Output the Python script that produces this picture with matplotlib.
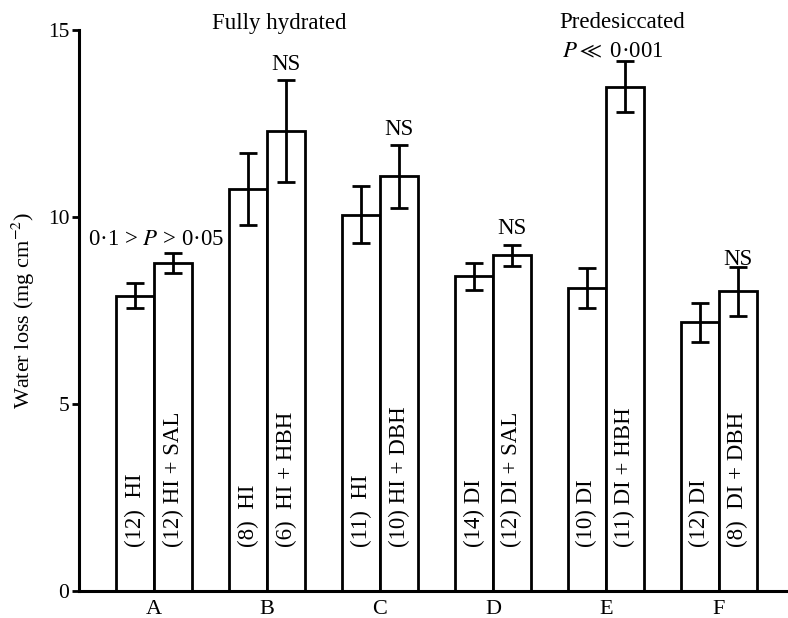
import matplotlib
matplotlib.use("Agg")
import matplotlib.pyplot as plt
import numpy as np

plt.rcParams['font.family'] = ['Liberation Serif', 'DejaVu Serif']
plt.rcParams['mathtext.fontset'] = 'stix'

groups = ['A', 'B', 'C', 'D', 'E', 'F']
control = [7.9, 10.75, 10.07, 8.42, 8.11, 7.19]
control_err = [0.34, 0.96, 0.75, 0.36, 0.53, 0.52]
treated = [8.78, 12.3, 11.09, 8.98, 13.48, 8.02]
treated_err = [0.27, 1.37, 0.85, 0.28, 0.68, 0.65]
control_labels = ['(12)  HI', '(8)  HI', '(11)  HI', '(14) DI', '(10) DI', '(12) DI']
treated_labels = ['(12) HI + SAL', '(6)  HI + HBH', '(10) HI + DBH',
                  '(12) DI + SAL', '(11) DI + HBH', '(8)  DI + DBH']
significance = ['0·1 > $P$ > 0·05', 'NS', 'NS', 'NS', '$P \\ll$ 0·001', 'NS']

fig = plt.figure(figsize=(7.88, 6.18), dpi=100)
ax = fig.add_axes([0.1003, 0.0429, 0.897, 0.9086])

x = np.arange(len(groups))
w = 0.336
err_kw = dict(ecolor='black', elinewidth=2, capsize=6.5, capthick=2)
ax.bar(x - w / 2, control, w, yerr=control_err, color='white',
       edgecolor='black', linewidth=2, error_kw=err_kw)
ax.bar(x + w / 2, treated, w, yerr=treated_err, color='white',
       edgecolor='black', linewidth=2, error_kw=err_kw)

# labels inside bars
for i in range(len(groups)):
    ax.text(x[i] - w / 2, 1.2, control_labels[i], rotation=90, ha='center',
            va='bottom', fontsize=16.5)
    ax.text(x[i] + w / 2, 1.2, treated_labels[i], rotation=90, ha='center',
            va='bottom', fontsize=16.5)

# significance notes
sig_pos = [(0.018, 9.39), (1.168, 14.07), (2.168, 12.33),
           (3.168, 9.69), (4.06, 14.41), (5.168, 8.86)]
for s, (sx, sy) in zip(significance, sig_pos):
    ax.text(sx, sy, s, ha='center', va='center', fontsize=16.5, clip_on=False)

ax.text(1.106, 15.16, 'Fully hydrated', ha='center', va='center',
        fontsize=16.5, clip_on=False)
ax.text(4.14, 15.19, 'Predesiccated', ha='center', va='center',
        fontsize=16.5, clip_on=False)

ax.set_xlim(-0.664, 5.593)
ax.set_ylim(0, 15)
ax.set_xticks(x)
ax.set_xticklabels(groups, fontsize=16)
ax.set_yticks([0, 5, 10, 15])
ax.set_yticklabels(['0', '5', '10', '15'], fontsize=15.5)
ax.tick_params(axis='x', length=0, pad=6)
ax.tick_params(axis='y', direction='out', length=5, width=2, pad=2)
ax.set_ylabel('Water loss (mg cm$^{-2}$)', fontsize=16, labelpad=8)

ax.spines['top'].set_visible(False)
ax.spines['right'].set_visible(False)
ax.spines['left'].set_linewidth(2.2)
ax.spines['bottom'].set_linewidth(2.2)

fig.savefig('out.png', dpi=100)
